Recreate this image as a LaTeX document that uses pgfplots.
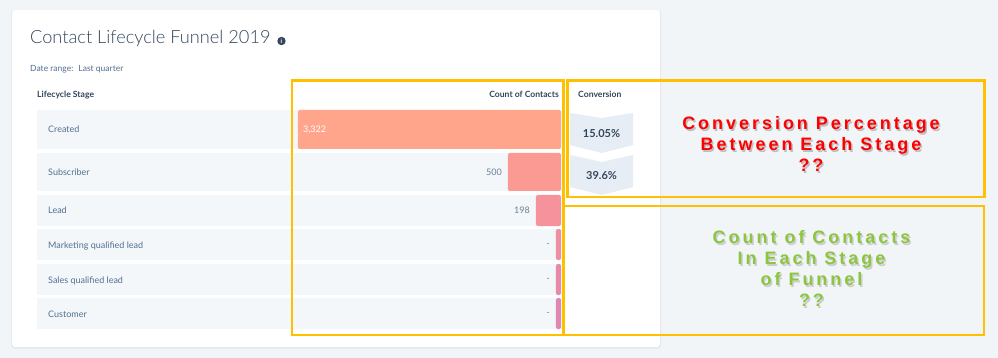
\documentclass[border=0pt]{standalone}
\usepackage{fontspec}
\setmainfont{Lato}
\newfontfamily\lightfont{Lato Light}
\newfontfamily\annot{Liberation Sans}[LetterSpace=16.5]
\usepackage{pgfplots}
\pgfplotsset{compat=1.18}
\definecolor{bgcol}{HTML}{F2F5F8}
\definecolor{cardsh}{HTML}{E3E8EE}
\definecolor{rowcol}{HTML}{F4F7FA}
\definecolor{dark}{HTML}{33475B}
\definecolor{mid}{HTML}{516F90}
\definecolor{lbl}{HTML}{6B7F95}
\definecolor{chev}{HTML}{E6EDF5}
\definecolor{yel}{HTML}{FFC000}
\definecolor{cA}{HTML}{FFA58B}
\definecolor{cB}{HTML}{FA9A93}
\definecolor{cC}{HTML}{F5929C}
\definecolor{cD}{HTML}{EE8EA2}
\definecolor{cE}{HTML}{E78AA7}
\definecolor{cF}{HTML}{DF87AE}
\definecolor{redt}{HTML}{FF0000}
\definecolor{grnt}{HTML}{8CC63E}
\pgfplotsset{canvas/.style={at={(0,0)},anchor=south west,width=998pt,height=358pt,scale only axis,
  ymin=0,ymax=358,y dir=reverse,hide axis,clip=false}}
\tikzset{stage/.style={anchor=base west,inner sep=0pt,text=mid,font=\fontsize{9}{11}\selectfont},
  hdr/.style={inner sep=0pt,text=dark,font=\bfseries\fontsize{8.6}{10}\selectfont},
  ann/.style={align=center,inner sep=0pt,font=\annot\bfseries\fontsize{18}{21}\selectfont}}
\begin{document}
\begin{tikzpicture}
% ---------- background, card, table layout ----------
\begin{axis}[canvas,xmin=0,xmax=998]
\fill[bgcol] (0,0) rectangle (998,358);
\fill[cardsh,rounded corners=3pt] (11,10) rectangle (661,348.5);
\fill[white,rounded corners=3pt] (12,10) rectangle (660,347);
% rows
\fill[rowcol] (37,110) rectangle (562,149);
\fill[rowcol] (37,153) rectangle (562,191);
\fill[rowcol] (37,195) rectangle (562,226);
\fill[rowcol] (37,229) rectangle (562,260);
\fill[rowcol] (37,264) rectangle (562,295);
\fill[rowcol] (37,298) rectangle (562,329);
% title
\node[anchor=base west,inner sep=0pt,text=dark,font=\lightfont\fontsize{18.2}{21}\selectfont] at (30,44) {Contact Lifecycle Funnel 2019};
\fill[dark] (281.5,41) circle[radius=4.2];
\node[inner sep=0pt,text=white,font=\bfseries\fontsize{6}{6}\selectfont] at (281.5,41) {i};
\node[anchor=base west,inner sep=0pt,text=mid,font=\fontsize{8.5}{10}\selectfont] at (30,71.5) {Date range:~ Last quarter};
% headers
\node[hdr,anchor=base west] at (37,98) {Lifecycle Stage};
\node[hdr,anchor=base east] at (559,98) {Count of Contacts};
\node[hdr,anchor=base west] at (578,98) {Conversion};
% stage names
\node[stage] at (48,133) {Created};
\node[stage] at (48,175.5) {Subscriber};
\node[stage] at (48,214) {Lead};
\node[stage] at (48,248) {Marketing qualified lead};
\node[stage] at (48,283) {Sales qualified lead};
\node[stage] at (48,317) {Customer};
% conversion chevrons
\fill[chev] (570,113) -- (601.5,118) -- (633,113) -- (633,145) -- (601.5,153) -- (570,145) -- cycle;
\fill[chev] (570,155) -- (601.5,162) -- (633,155) -- (633,187) -- (601.5,195) -- (570,187) -- cycle;
\node[inner sep=0pt,text=dark,font=\bfseries\fontsize{11}{12}\selectfont] at (601.5,134) {15.05\%};
\node[inner sep=0pt,text=dark,font=\bfseries\fontsize{11}{12}\selectfont] at (601.5,175.5) {39.6\%};
% annotations
\node[ann,text=black,opacity=0.22] at (812.5,145.5) {Conversion Percentage\\Between Each Stage\\??};
\node[ann,text=redt] at (811,144) {Conversion Percentage\\Between Each Stage\\??};
\node[ann,text=black,opacity=0.16] at (813,270) {Count of Contacts\\In Each Stage\\of Funnel\\??};
\node[ann,text=grnt] at (811.5,268.5) {Count of Contacts\\In Each Stage\\of Funnel\\??};
\end{axis}
% ---------- funnel bars (x = length in px, growing leftwards from the right edge) ----------
\begin{axis}[canvas,x dir=reverse,xmin=-437,xmax=561,
  every axis plot/.append style={xbar,draw=none,rounded corners=2pt,nodes near coords,point meta=explicit symbolic},
  every node near coord/.append style={anchor=east,xshift=-6pt,text=lbl,font=\fontsize{9}{11}\selectfont,inner sep=0pt}]
\addplot[fill=cA,bar width=39,every node near coord/.append style={anchor=west,xshift=11pt,text=white}] coordinates {(263,129.5) [3,322]};
\addplot[fill=cB,bar width=38] coordinates {(53,172) [500]};
\addplot[fill=cC,bar width=31] coordinates {(25,210.5) [198]};
\addplot[fill=cD,bar width=31] coordinates {(5,244.5) [-]};
\addplot[fill=cE,bar width=31] coordinates {(5,279.5) [-]};
\addplot[fill=cF,bar width=31] coordinates {(5,313.5) [-]};
\end{axis}
% ---------- yellow highlight boxes ----------
\begin{axis}[canvas,xmin=0,xmax=998]
\draw[yel,line width=2.6pt] (292,80.5) rectangle (563.5,335);
\draw[yel,line width=2.6pt] (567.5,80.5) rectangle (984.5,197);
\draw[yel,line width=2.6pt] (563.5,206) rectangle (984,335);
\end{axis}
\end{tikzpicture}
\end{document}
